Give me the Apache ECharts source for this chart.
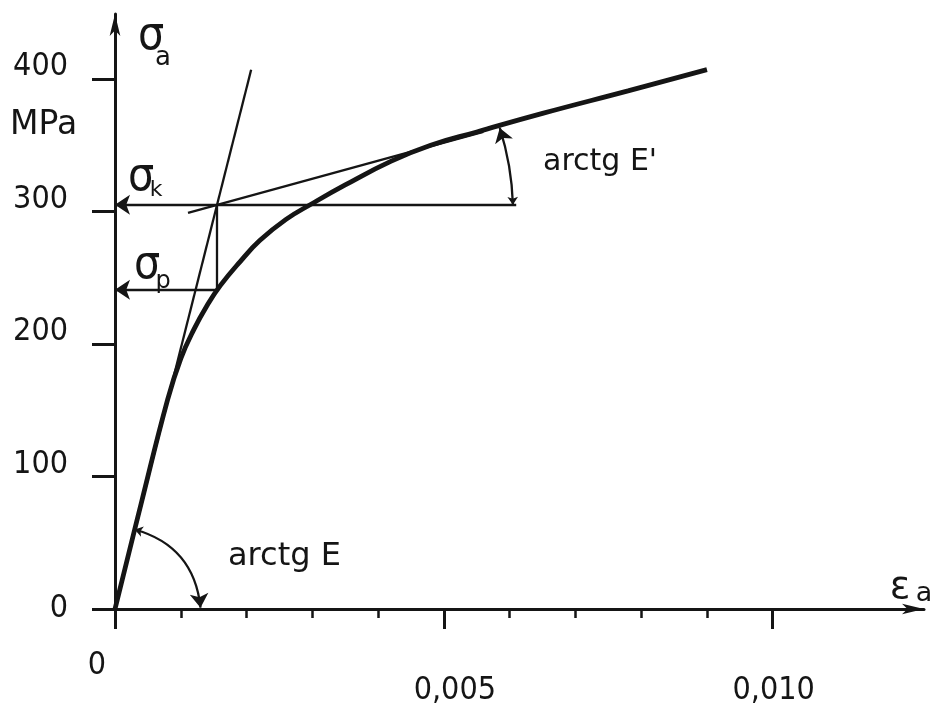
<!DOCTYPE html>
<html>
<head>
<meta charset="utf-8">
<script src="https://cdn.jsdelivr.net/npm/echarts@6/dist/echarts.min.js"></script>
<style>
html,body{margin:0;padding:0;background:#fff;}
#chart{width:933px;height:707px;}
</style>
</head>
<body>
<div id="chart"></div>
<script>
// ---- data (strain [-], stress [MPa]) ----
const curveX = [0, 0.0004, 0.0008, 0.001, 0.0012, 0.0014, 0.0016, 0.0019, 0.0022, 0.0026, 0.003, 0.0035, 0.0042, 0.0048, 0.0055, 0.0065, 0.0078, 0.009];
const curveY = [0, 80, 158, 189, 211, 229, 244, 262, 278, 294, 306, 320, 338, 350, 360, 374, 391, 407];
const tangentE = [[0, 0], [0.00207, 407]];          // slope E
const tangentE2 = [[0.00111, 299], [0.0056, 360]];  // slope E'
const sigmaK = 305;
const sigmaP = 241;
const epsK = 0.00155;
const sigmaKLineEnd = 0.0061;
const arcE = [[0.0003, 60], [0.0013, 1]];
const arcE2 = [[0.00605, 305], [0.00585, 363]];
const yTicks = [0, 100, 200, 300, 400];
const xMinorTicks = [0, 0.001, 0.002, 0.003, 0.004, 0.005, 0.006, 0.007, 0.008, 0.009, 0.010];
const xMajorTicks = [0, 0.005, 0.010];
const xTickLabels = ['0', '0,005', '0,010'];

const INK = '#151515';
const NUMFONT = "'DejaVu Sans Condensed',sans-serif";
const TXTFONT = "'DejaVu Sans',sans-serif";

const chart = echarts.init(document.getElementById('chart'), null, {renderer: 'canvas'});

function seg(a, b) { return {coords: [a, b]}; }

const option = {
  backgroundColor: '#ffffff',
  animation: false,
  grid: {left: 115, right: 9, top: 14, bottom: 97, containLabel: false},
  xAxis: [
    {
      type: 'value', min: 0, max: 0.0123,
      axisLine: {show: true, lineStyle: {color: INK, width: 3}, symbol: ['none', 'arrow'], symbolSize: [8, 22]},
      axisTick: {show: true, customValues: xMinorTicks, length: 9, lineStyle: {color: INK, width: 2.5}},
      axisLabel: {show: false},
      splitLine: {show: false}
    },
    {
      type: 'value', min: 0, max: 0.0123, position: 'bottom',
      axisLine: {show: false},
      axisTick: {show: true, customValues: xMajorTicks, length: 20, lineStyle: {color: INK, width: 3}},
      axisLabel: {
        show: true, customValues: xMajorTicks, margin: 41,
        formatter: function (v) {
          const i = xMajorTicks.findIndex(t => Math.abs(t - v) < 1e-9);
          const s = i >= 0 ? xTickLabels[i] : '';
          if (i === 0) return '{z|' + s + '}';
          if (i === 1) return '{a|' + s + '}';
          return '{b|' + s + '}';
        },
        rich: {
          z: {fontFamily: NUMFONT, fontSize: 32, color: INK, padding: [0, 36, 0, 0]},
          a: {fontFamily: NUMFONT, fontSize: 32, color: INK, padding: [25, 0, 0, 22]},
          b: {fontFamily: NUMFONT, fontSize: 32, color: INK, padding: [25, 0, 0, 2]}
        }
      },
      splitLine: {show: false}
    }
  ],
  yAxis: {
    type: 'value', min: 0, max: 449,
    axisLine: {show: true, onZero: false, lineStyle: {color: INK, width: 3}, symbol: ['none', 'arrow'], symbolSize: [8, 22]},
    axisTick: {show: true, customValues: yTicks, length: 23, lineStyle: {color: INK, width: 3}},
    axisLabel: {
      show: true, customValues: yTicks, margin: 47,
      formatter: function (v) { return v === 0 ? '{z|0}' : '{n|' + v + '}'; },
      rich: {
        z: {fontFamily: NUMFONT, fontSize: 32, color: INK},
        n: {fontFamily: NUMFONT, fontSize: 32, color: INK, padding: [0, 0, 24, 0]}
      }
    },
    splitLine: {show: false}
  },
  series: [
    {
      name: 'curve', type: 'line', xAxisIndex: 0, smooth: 0.45, showSymbol: false,
      data: curveX.map((x, i) => [x, curveY[i]]),
      lineStyle: {color: INK, width: 4.8}, z: 5
    },
    {
      name: 'thin', type: 'lines', coordinateSystem: 'cartesian2d', xAxisIndex: 0,
      symbol: ['none', 'none'],
      lineStyle: {color: INK, width: 2.3, opacity: 1},
      data: [
        seg(tangentE[0], tangentE[1]),
        seg(tangentE2[0], tangentE2[1]),
        seg([epsK, sigmaP], [epsK, sigmaK])
      ], z: 4
    },
    {
      name: 'levels', type: 'lines', coordinateSystem: 'cartesian2d', xAxisIndex: 0,
      symbol: ['none', 'arrow'], symbolSize: [7, 15],
      lineStyle: {color: INK, width: 2.3, opacity: 1},
      data: [
        seg([sigmaKLineEnd, sigmaK], [0, sigmaK]),
        seg([epsK, sigmaP], [0, sigmaP])
      ], z: 4
    },
    {
      name: 'arcE', type: 'lines', coordinateSystem: 'cartesian2d', xAxisIndex: 0,
      symbol: ['arrow', 'arrow'], symbolSize: [8, 14],
      lineStyle: {color: INK, width: 2.3, curveness: 0.34, opacity: 1},
      data: [seg(arcE[0], arcE[1])], z: 4
    },
    {
      name: 'arcE2', type: 'lines', coordinateSystem: 'cartesian2d', xAxisIndex: 0,
      symbol: ['arrow', 'arrow'], symbolSize: [8, 14],
      lineStyle: {color: INK, width: 2.3, curveness: -0.07, opacity: 1},
      data: [seg(arcE2[0], arcE2[1])], z: 4
    }
  ],
  graphic: [
    {type: 'text', x: 10, y: 125, style: {text: 'MPa', font: '33px ' + TXTFONT, fill: INK, align: 'left', verticalAlign: 'middle'}},
    {type: 'text', x: 151, y: 37, style: {text: 'σ', font: '46px ' + NUMFONT, fill: INK, align: 'center', verticalAlign: 'middle'}},
    {type: 'text', x: 163, y: 58, style: {text: 'a', font: '26px ' + TXTFONT, fill: INK, align: 'center', verticalAlign: 'middle'}},
    {type: 'text', x: 141, y: 178, style: {text: 'σ', font: '46px ' + NUMFONT, fill: INK, align: 'center', verticalAlign: 'middle'}},
    {type: 'text', x: 156, y: 190, style: {text: 'k', font: '22px ' + TXTFONT, fill: INK, align: 'center', verticalAlign: 'middle'}},
    {type: 'text', x: 147, y: 266, style: {text: 'σ', font: '46px ' + NUMFONT, fill: INK, align: 'center', verticalAlign: 'middle'}},
    {type: 'text', x: 163, y: 282, style: {text: 'p', font: '24px ' + TXTFONT, fill: INK, align: 'center', verticalAlign: 'middle'}},
    {type: 'text', x: 900, y: 588, style: {text: 'ε', font: '38px ' + TXTFONT, fill: INK, align: 'center', verticalAlign: 'middle'}},
    {type: 'text', x: 924, y: 594, style: {text: 'a', font: '27px ' + TXTFONT, fill: INK, align: 'center', verticalAlign: 'middle'}},
    {type: 'text', x: 228, y: 557, style: {text: 'arctg E', font: '32px ' + TXTFONT, fill: INK, align: 'left', verticalAlign: 'middle'}},
    {type: 'text', x: 543, y: 162, style: {text: "arctg E'", font: '30px ' + TXTFONT, fill: INK, align: 'left', verticalAlign: 'middle'}}
  ]
};
chart.setOption(option);
</script>
</body>
</html>
